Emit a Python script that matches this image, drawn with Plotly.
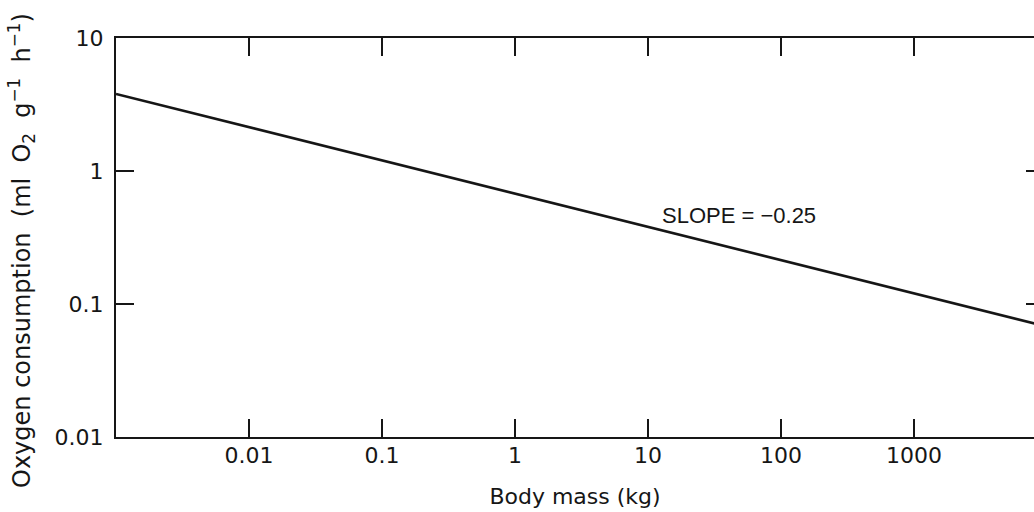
import plotly.graph_objects as go

# Data
body_mass_kg = [0.001, 10000]
oxygen_consumption = [3.8, 0.0676]
x_tick_vals = [0.01, 0.1, 1, 10, 100, 1000]
x_tick_text = ["0.01", "0.1", "1", "10", "100", "1000"]
y_tick_vals = [0.01, 0.1, 1, 10]
y_tick_text = ["0.01", "0.1", "1", "10"]
slope_label = "SLOPE = \u22120.25"
x_title = "Body mass (kg)"
y_title = ("Oxygen consumption\u00a0 (ml\u00a0 O<sub>2</sub>\u00a0 g<sup>\u22121</sup>\u00a0 "
           "h<sup>\u22121</sup>)")

FONT = "DejaVu Sans, Verdana, sans-serif"
FONT2 = "Liberation Sans, Arial, Helvetica, sans-serif"
INK = "#161616"

fig = go.Figure()
fig.add_trace(go.Scatter(
    x=body_mass_kg, y=oxygen_consumption, mode="lines",
    line=dict(color=INK, width=2.6), showlegend=False, hoverinfo="skip",
))
# invisible trace carrying the top and right-hand tick marks
fig.add_trace(go.Scatter(
    x=body_mass_kg, y=oxygen_consumption, mode="lines", xaxis="x2", yaxis="y2",
    line=dict(color="rgba(0,0,0,0)", width=0), showlegend=False, hoverinfo="skip",
))

tick_style = dict(ticks="inside", tickwidth=1.8, tickcolor=INK,
                  showgrid=False, zeroline=False)

fig.update_layout(
    width=1034, height=512,
    margin=dict(l=116, r=0, t=38, b=75),
    paper_bgcolor="white", plot_bgcolor="white",
    font=dict(family=FONT, size=22, color=INK),
    xaxis=dict(
        type="log", range=[-3, 3.902],
        tickvals=x_tick_vals, ticktext=x_tick_text, ticklen=18,
        showline=True, linewidth=2.2, linecolor=INK, mirror=False,
        ticklabelstandoff=-3,
        title=dict(text=x_title, font=dict(size=22), standoff=22),
        tickfont=dict(size=22), **tick_style,
    ),
    xaxis2=dict(
        type="log", range=[-3, 3.902], overlaying="x", side="top", anchor="y2",
        tickvals=x_tick_vals, ticklen=18, showticklabels=False,
        showline=True, linewidth=2.2, linecolor=INK, **tick_style,
    ),
    yaxis=dict(
        type="log", range=[-2, 1],
        tickvals=y_tick_vals, ticktext=y_tick_text, ticklen=18,
        showline=True, linewidth=2.2, linecolor=INK, mirror=False,
        ticklabelstandoff=6,
        tickfont=dict(size=22), **tick_style,
    ),
    yaxis2=dict(
        type="log", range=[-2, 1], overlaying="y", side="right", anchor="x2",
        tickvals=y_tick_vals, ticklen=8, showticklabels=False, showline=False,
        **tick_style,
    ),
    annotations=[
        dict(x=1.09, y=-0.331, xref="x", yref="y", text=slope_label,
             showarrow=False, xanchor="left", yanchor="middle",
             font=dict(size=22, color=INK, family=FONT2)),
        dict(x=-0.1024, y=0.4687, xref="paper", yref="paper", text=y_title,
             textangle=-90, showarrow=False, xanchor="center", yanchor="middle",
             font=dict(size=24, color=INK, family=FONT)),
    ],
)

fig.write_html("out.html", config={"displayModeBar": False},
               post_script="document.body.style.margin='0';")
